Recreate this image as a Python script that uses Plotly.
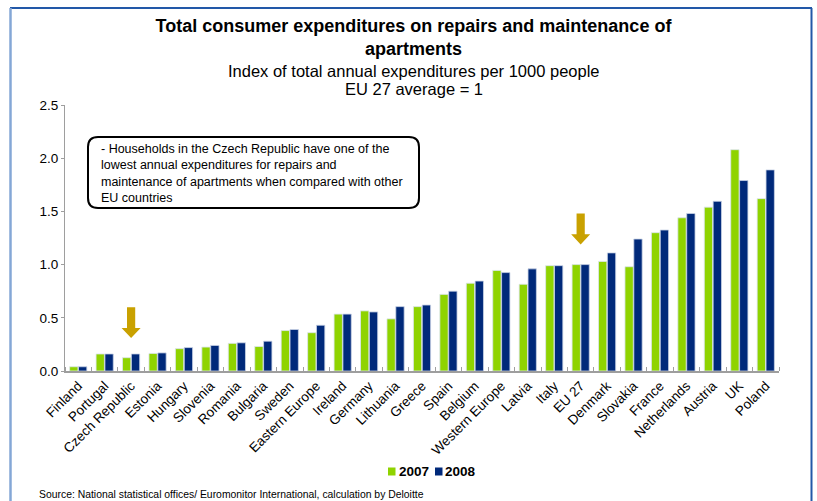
import plotly.graph_objects as go

# Index of total annual expenditures on repairs and maintenance of apartments
# per 1000 people (EU 27 average = 1)
countries = [
    "Finland", "Portugal", "Czech Republic", "Estonia", "Hungary", "Slovenia",
    "Romania", "Bulgaria", "Sweden", "Eastern Europe", "Ireland", "Germany",
    "Lithuania", "Greece", "Spain", "Belgium", "Western Europe", "Latvia",
    "Italy", "EU 27", "Denmark", "Slovakia", "France", "Netherlands",
    "Austria", "UK", "Poland",
]
values_2007 = [
    0.04, 0.16, 0.125, 0.165, 0.21, 0.225, 0.26, 0.23, 0.38, 0.36, 0.535,
    0.565, 0.49, 0.605, 0.72, 0.825, 0.945, 0.815, 0.99, 1.00, 1.03, 0.98,
    1.30, 1.44, 1.54, 2.08, 1.62,
]
values_2008 = [
    0.04, 0.16, 0.16, 0.17, 0.22, 0.24, 0.265, 0.28, 0.39, 0.43, 0.535,
    0.555, 0.605, 0.62, 0.75, 0.845, 0.925, 0.96, 0.99, 1.00, 1.11, 1.24,
    1.325, 1.48, 1.595, 1.79, 1.89,
]
series_names = ["2007", "2008"]
y_ticks = [0.0, 0.5, 1.0, 1.5, 2.0, 2.5]

# Countries highlighted with a pointer arrow
highlighted = ["Czech Republic", "EU 27"]

W, H = 817, 501
M_L, M_R, M_T, M_B = 65, 38, 105, 130
PW, PH = W - M_L - M_R, H - M_T - M_B

FONT = "Liberation Sans, Arial, sans-serif"
GREEN = "#8FD300"
NAVY = "#00297A"
GOLD = "#C9A100"
AXIS = "#9E9E9E"


def px_x(p):
    """Horizontal page pixel -> paper coordinate."""
    return (p - M_L) / PW


def px_y(p):
    """Vertical page pixel (from top) -> paper coordinate."""
    return (H - M_B - p) / PH


x_idx = list(range(len(countries)))

fig = go.Figure()
for name, vals, color, edge in [
    (series_names[0], values_2007, GREEN, "#DCE4EF"),
    (series_names[1], values_2008, NAVY, "#C9D3E6"),
]:
    fig.add_trace(go.Bar(
        x=x_idx, y=vals, name=name,
        marker=dict(color=color, line=dict(color=edge, width=0.8)),
        hovertext=countries, showlegend=False,
    ))

shapes = []

# Block arrows pointing down at the highlighted categories
for name in highlighted:
    i = countries.index(name)
    top = max(values_2007[i], values_2008[i])
    tip = top + 0.15 if top < 0.5 else top + 0.19
    head_h, shaft_h = 0.095, 0.195
    hw_shaft, hw_head = 0.155, 0.36
    path = (
        f"M {i - hw_shaft},{tip + head_h + shaft_h} "
        f"L {i + hw_shaft},{tip + head_h + shaft_h} "
        f"L {i + hw_shaft},{tip + head_h} "
        f"L {i + hw_head},{tip + head_h} "
        f"L {i},{tip} "
        f"L {i - hw_head},{tip + head_h} "
        f"L {i - hw_shaft},{tip + head_h} Z"
    )
    shapes.append(dict(type="path", xref="x", yref="y", path=path,
                       fillcolor=GOLD, line=dict(width=0), layer="above"))

# Rounded comment box
bx0, bx1, by0, by1 = px_x(88), px_x(419), px_y(208), px_y(137)
rx, ry = 10 / PW, 10 / PH
box = (
    f"M {bx0 + rx},{by1} L {bx1 - rx},{by1} Q {bx1},{by1} {bx1},{by1 - ry} "
    f"L {bx1},{by0 + ry} Q {bx1},{by0} {bx1 - rx},{by0} "
    f"L {bx0 + rx},{by0} Q {bx0},{by0} {bx0},{by0 + ry} "
    f"L {bx0},{by1 - ry} Q {bx0},{by1} {bx0 + rx},{by1} Z"
)
shapes.append(dict(type="path", xref="paper", yref="paper", path=box,
                   fillcolor="white", line=dict(color="black", width=2)))

# Legend swatches
for color, xp in [(GREEN, 388), (NAVY, 435)]:
    shapes.append(dict(type="rect", xref="paper", yref="paper",
                       x0=px_x(xp), x1=px_x(xp + 7.5),
                       y0=px_y(475.5), y1=px_y(467.5),
                       fillcolor=color, line=dict(width=0)))

# Frame lines around the slide
shapes.append(dict(type="line", xref="paper", yref="paper",
                   x0=px_x(10), x1=px_x(812), y0=px_y(8), y1=px_y(8),
                   line=dict(color="#2258A8", width=2)))
shapes.append(dict(type="line", xref="paper", yref="paper",
                   x0=px_x(10.5), x1=px_x(10.5), y0=px_y(8), y1=px_y(502),
                   line=dict(color="#84A7D6", width=2.5)))
shapes.append(dict(type="line", xref="paper", yref="paper",
                   x0=px_x(811.5), x1=px_x(811.5), y0=px_y(8), y1=px_y(502),
                   line=dict(color="#2258A8", width=2)))

annotations = []
subtitle = [
    ("Index of total annual expenditures per 1000 people", 71),
    ("EU 27 average = 1", 89),
]
for text, yp in subtitle:
    annotations.append(dict(
        text=text, xref="paper", yref="paper", x=px_x(413.5), y=px_y(yp),
        xanchor="center", yanchor="middle", showarrow=False,
        font=dict(family=FONT, size=16.5, color="black"),
    ))

annotations.append(dict(
    text=("- Households in the Czech Republic have one of the<br>"
          "lowest annual expenditures for repairs and<br>"
          "maintenance of apartments when compared with other<br>"
          "EU countries"),
    xref="paper", yref="paper", x=px_x(99), y=px_y(173),
    xanchor="left", yanchor="middle", align="left", showarrow=False,
    font=dict(family=FONT, size=12.5, color="black"),
))

# Legend labels
for name, xp in [(series_names[0], 396.5), (series_names[1], 443)]:
    annotations.append(dict(
        text=f"<b>{name}</b>", xref="paper", yref="paper",
        x=px_x(xp), y=px_y(471.5), xanchor="left", yanchor="middle",
        showarrow=False, font=dict(family=FONT, size=13.5, color="black"),
    ))

annotations.append(dict(
    text="Source: National statistical offices/ Euromonitor International, calculation by Deloitte",
    xref="paper", yref="paper", x=px_x(37), y=px_y(495),
    xanchor="left", yanchor="middle", showarrow=False,
    font=dict(family=FONT, size=10.4, color="black"),
))

fig.update_layout(
    width=W, height=H,
    margin=dict(l=M_L, r=M_R, t=M_T, b=M_B, autoexpand=False),
    paper_bgcolor="white", plot_bgcolor="white",
    font=dict(family=FONT, size=12, color="black"),
    title=dict(
        text=("<b>Total consumer expenditures on repairs and maintenance of"
              "<br>apartments</b>"),
        x=413.5 / W, xref="container", xanchor="center",
        y=1 - 32 / H, yref="container", yanchor="middle",
        font=dict(family=FONT, size=18, color="black"),
    ),
    barmode="group", bargap=0.33, bargroupgap=0.06,
    showlegend=False,
    xaxis=dict(
        range=[-0.5, len(countries) - 0.5],
        tickmode="array", tickvals=x_idx, ticktext=countries,
        tickangle=-45, ticks="", showgrid=False, zeroline=False,
        showline=True, linecolor=AXIS, linewidth=1.5,
        tickfont=dict(family=FONT, size=13.5, color="black"),
        minor=dict(tickmode="array",
                   tickvals=[i + 0.5 for i in range(-1, len(countries))],
                   ticks="inside", ticklen=4, tickcolor=AXIS, tickwidth=1,
                   showgrid=False),
    ),
    yaxis=dict(
        range=[0, 2.5], tickmode="array", tickvals=y_ticks,
        tickformat=".1f", ticks="outside", ticklen=3, tickcolor=AXIS,
        showgrid=False, zeroline=False, showline=True,
        linecolor=AXIS, linewidth=1,
        tickfont=dict(family=FONT, size=13.5, color="black"),
    ),
    shapes=shapes,
    annotations=annotations,
)

fig.write_html("out.html")
